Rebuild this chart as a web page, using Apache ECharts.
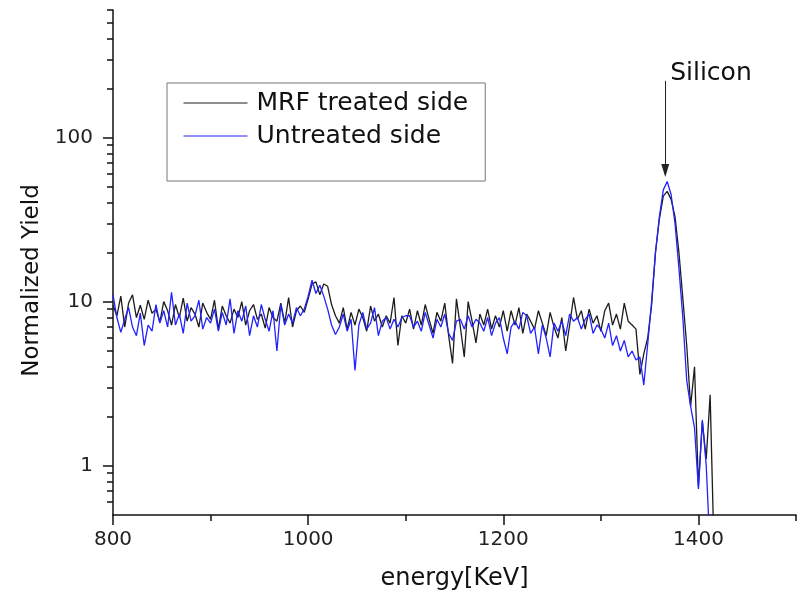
<!DOCTYPE html>
<html>
<head>
<meta charset="utf-8">
<script src="https://cdn.jsdelivr.net/npm/echarts@6/dist/echarts.min.js"></script>
<style>
  html, body { margin: 0; padding: 0; background: #fff; }
  #main { width: 797px; height: 597px; }
</style>
</head>
<body>
<div id="main"></div>
<script>
"use strict";

// channel energies: first channel and spacing in keV
const energyStart = 800;
const energyStep = 4;

// MRF treated side (black)
const mrf = [
  // 800 - 988
  9.5, 8.2, 10.8, 7.0, 9.8, 11.0, 8.0, 9.5, 7.8, 10.2,
  8.5, 9.0, 7.5, 10.0, 8.8, 7.2, 9.6, 8.0, 10.5, 7.6,
  9.2, 8.4, 7.0, 9.8, 8.6, 7.8, 10.2, 6.8, 9.4, 8.2,
  7.4, 9.0, 8.0, 10.0, 7.2, 8.8, 9.6, 7.8, 8.4, 6.9,
  9.2, 8.0, 7.6, 9.8, 7.4, 10.6, 7.0, 8.8,
  // 992 - 1024 bump
  9.4, 8.6, 10.4, 12.8, 13.2, 11.0, 12.8, 12.4, 9.6,
  // 1028 - 1328
  8.2, 7.4, 9.2, 6.8, 8.6, 7.2, 9.0, 8.0, 6.6, 9.4,
  7.6, 8.4, 7.0, 8.2, 7.4, 10.6, 5.4, 8.2, 7.4, 9.0,
  6.8, 8.8, 7.2, 9.6, 7.8, 6.4, 8.6, 7.6, 9.8, 6.2,
  4.2, 10.4, 7.0, 4.6, 10.0, 7.6, 5.6, 8.4, 7.2, 9.0,
  6.8, 8.2, 7.0, 8.8, 6.6, 8.8, 7.2, 9.2, 6.4, 8.4,
  7.6, 6.8, 8.8, 7.4, 6.2, 8.6, 7.0, 6.0, 8.0, 5.0,
  7.2, 10.6, 7.8, 8.8, 6.8, 9.0, 7.4, 8.2, 6.6, 8.8,
  9.8, 7.2, 8.4, 6.8, 9.8, 7.6,
  // 1332 - 1416 silicon edge
  7.2, 6.8, 3.6, 4.8, 6.0, 9.5, 20, 32, 44, 47,
  42, 33, 20, 10.5, 5.4, 2.3, 4.0, 0.75, 1.85, 1.1,
  2.7, 0.3
];

// Untreated side (blue)
const untreated = [
  // 800 - 988
  11.0, 8.0, 6.5, 7.8, 9.2, 7.0, 6.2, 8.5, 5.4, 7.2,
  6.6, 9.6, 7.4, 8.8, 7.0, 11.4, 7.2, 8.4, 6.4, 9.8,
  7.6, 8.2, 10.2, 6.8, 8.0, 7.4, 9.0, 6.6, 8.6, 7.2,
  10.4, 6.4, 8.8, 7.6, 9.4, 6.2, 8.2, 7.0, 9.6, 7.8,
  6.6, 8.8, 5.0, 9.6, 7.2, 8.4, 7.4, 9.2,
  // 992 - 1024 bump
  8.2, 9.0, 10.8, 13.5, 11.2, 12.6, 10.8, 9.0, 7.2,
  // 1028 - 1328
  6.3, 7.0, 8.4, 6.6, 7.8, 3.8, 7.2, 8.6, 6.8, 7.4,
  9.2, 6.2, 7.6, 8.0, 6.8, 7.8, 7.0, 8.0, 8.2, 8.2,
  7.0, 7.6, 6.6, 8.6, 7.2, 6.0, 7.8, 7.0, 8.4, 6.4,
  5.8, 7.6, 7.8, 6.8, 8.2, 7.0, 7.8, 7.4, 6.6, 8.0,
  6.2, 7.4, 8.0, 6.0, 4.8, 7.0, 7.6, 6.8, 8.6, 8.2,
  6.4, 7.0, 4.8, 7.2, 6.0, 4.6, 7.4, 6.6, 7.6, 6.2,
  8.4, 7.6, 8.0, 6.8, 7.8, 8.4, 6.4, 7.2, 6.8, 6.0,
  7.4, 5.4, 6.2, 5.0, 5.8, 4.6,
  // 1332 - 1412 silicon edge
  5.0, 4.4, 4.6, 3.1, 5.5, 10, 20, 33, 48, 54,
  45, 30, 16, 8.0, 3.3, 2.3, 1.7, 0.72, 1.9, 1.0,
  0.3
];

const seriesNames = ['MRF treated side', 'Untreated side'];
const xMajorTicks = [800, 1000, 1200, 1400];
const xMinorTicks = [900, 1100, 1300, 1500];
const yMajorTicks = [1, 10, 100];
const yMinorTicks = [0.6, 0.7, 0.8, 0.9, 2, 3, 4, 5, 6, 7, 8, 9,
  20, 30, 40, 50, 60, 70, 80, 90, 200, 300, 400, 500, 600];

function toPairs(values) {
  return values.map(function (v, i) {
    return [energyStart + i * energyStep, v];
  });
}

const font = 'DejaVu Sans';
let myChart = echarts.init(document.getElementById('main'));

let option = {
  animation: false,
  backgroundColor: '#fff',
  grid: {
    left: 113,
    right: 1,
    top: 10,
    bottom: 82,
  },
  legend: {
    orient: 'vertical',
    left: 167,
    top: 83,
    data: seriesNames,
    itemWidth: 64,
    itemHeight: 12,
    itemGap: 7,
    padding: [7, 17, 32, 16],
    borderColor: '#777',
    borderWidth: 1,
    itemStyle: { opacity: 0 },
    lineStyle: { width: 1 },
    textStyle: {
      fontFamily: font,
      fontSize: 25,
      lineHeight: 26,
      color: '#111',
      padding: [0, 0, 0, 4],
    },
  },
  xAxis: [
    {
      type: 'value',
      position: 'bottom',
      min: 800,
      max: 1500,
      interval: 200,
      name: 'energy[KeV]',
      nameLocation: 'middle',
      nameGap: 52,
      nameTextStyle: { fontFamily: font, fontSize: 24, color: '#111' },
      axisLine: { onZero: false, lineStyle: { color: '#111', width: 1.5 } },
      axisTick: { customValues: xMajorTicks, length: 10, lineStyle: { color: '#111', width: 1.5 } },
      axisLabel: {
        customValues: xMajorTicks,
        margin: 15,
        fontFamily: font,
        fontSize: 20,
        color: '#222',
        formatter: function (value) {
          return String(value);
        },
      },
      splitLine: { show: false },
    },
    {
      type: 'value',
      position: 'bottom',
      min: 800,
      max: 1500,
      axisLine: { show: false, onZero: false },
      axisTick: { customValues: xMinorTicks, length: 6, lineStyle: { color: '#111', width: 1.5 } },
      axisLabel: { show: false },
      splitLine: { show: false },
    },
  ],
  yAxis: [
    {
      type: 'log',
      logBase: 10,
      position: 'left',
      min: 0.5,
      max: 600,
      name: 'Normalized Yield',
      nameLocation: 'middle',
      nameGap: 54,
      nameTextStyle: { fontFamily: font, fontSize: 23, color: '#111', padding: [0, 36, 0, 0] },
      axisLine: { show: true, onZero: false, lineStyle: { color: '#111', width: 1.5 } },
      axisTick: { customValues: yMajorTicks, length: 10, lineStyle: { color: '#111', width: 1.5 } },
      axisLabel: { customValues: yMajorTicks, margin: 20, fontFamily: font, fontSize: 20, color: '#222' },
      splitLine: { show: false },
    },
    {
      type: 'log',
      logBase: 10,
      position: 'left',
      min: 0.5,
      max: 600,
      axisLine: { show: false, onZero: false },
      axisTick: { customValues: yMinorTicks, length: 6, lineStyle: { color: '#111', width: 1.5 } },
      axisLabel: { show: false },
      splitLine: { show: false },
    },
  ],
  series: [
    {
      name: seriesNames[0],
      type: 'line',
      xAxisIndex: 0,
      yAxisIndex: 0,
      symbol: 'none',
      data: toPairs(mrf),
      lineStyle: { color: '#1c1c1c', width: 1.3 },
      itemStyle: { color: '#1c1c1c' },
      markLine: {
        silent: true,
        symbol: ['none', 'triangle'],
        symbolSize: [8, 13],
        label: { show: false },
        lineStyle: { color: '#222', width: 1, type: 'solid' },
        data: [
          [{ coord: [1366, 222] }, { coord: [1366, 63] }],
        ],
      },
      markPoint: {
        silent: true,
        symbol: 'circle',
        symbolSize: 0,
        label: {
          show: true,
          position: 'right',
          distance: 0,
          formatter: 'Silicon',
          fontFamily: font,
          fontSize: 25,
          color: '#111',
        },
        data: [{ coord: [1371, 245] }],
      },
    },
    {
      name: seriesNames[1],
      type: 'line',
      xAxisIndex: 0,
      yAxisIndex: 0,
      symbol: 'none',
      data: toPairs(untreated),
      lineStyle: { color: '#2222ff', width: 1.3 },
      itemStyle: { color: '#2222ff' },
    },
  ],
};

myChart.setOption(option);
</script>
</body>
</html>
